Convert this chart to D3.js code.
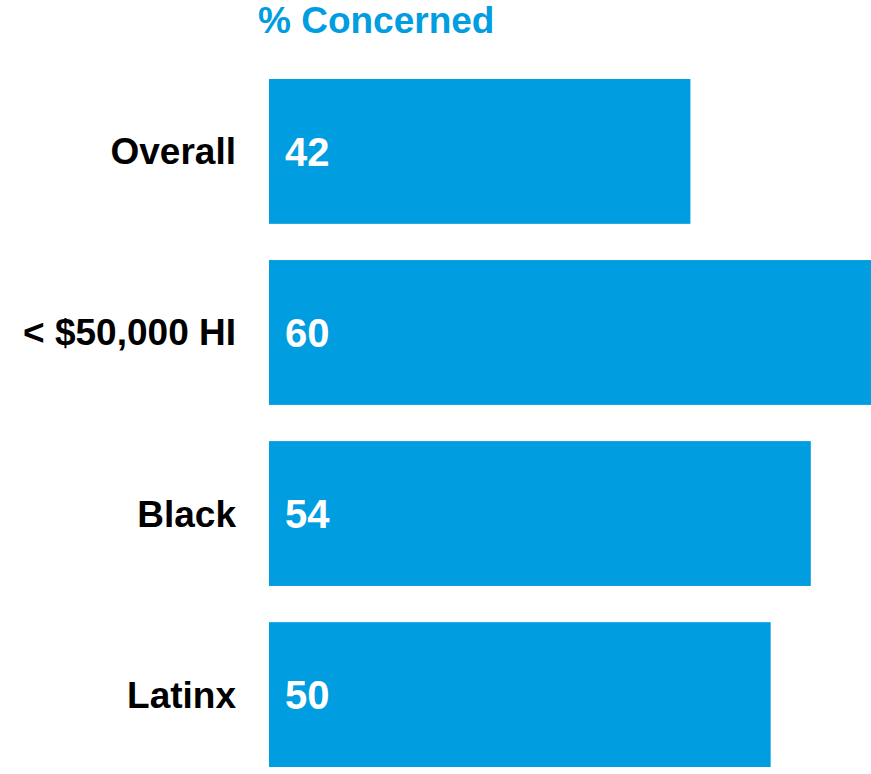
<!DOCTYPE html>
<html><head><meta charset="utf-8">
<script src="https://cdn.jsdelivr.net/npm/d3@7"></script>
<style>body{margin:0;background:#fff}svg{display:block}</style>
</head><body>
<script>
const categories = ["Overall", "< $50,000 HI", "Black", "Latinx"];
const values = [42, 60, 54, 50];
const title = "% Concerned";

const W = 871, H = 774;
const svg = d3.select("body").append("svg").attr("width", W).attr("height", H);
const blue = "#009de0";
const font = "'Liberation Sans', Arial, sans-serif";

const x = d3.scaleLinear().domain([0, 60]).range([269, 871]);
const y = d3.scaleBand().domain(categories).range([79, 767]).paddingInner(0.2).paddingOuter(0);

svg.append("text").attr("x", 258).attr("y", 33).attr("fill", blue)
  .attr("font-family", font).attr("font-weight", "bold").attr("font-size", 37).text(title);

const g = svg.append("g");
g.selectAll("rect").data(values).join("rect")
  .attr("x", x(0)).attr("y", (d, i) => y(categories[i]))
  .attr("width", d => x(d) - x(0)).attr("height", y.bandwidth()).attr("fill", blue);

g.selectAll("text.val").data(values).join("text").attr("class", "val")
  .attr("x", x(0) + 16).attr("y", (d, i) => y(categories[i]) + y.bandwidth() / 2 + 14.5)
  .attr("fill", "#fff").attr("font-family", font).attr("font-weight", "bold").attr("font-size", 40)
  .text(d => d);

g.selectAll("text.cat").data(categories).join("text").attr("class", "cat")
  .attr("x", 236).attr("y", d => y(d) + y.bandwidth() / 2 + 13)
  .attr("text-anchor", "end").attr("fill", "#000").attr("font-family", font)
  .attr("font-weight", "bold").attr("font-size", 37).text(d => d);
</script>
</body></html>
